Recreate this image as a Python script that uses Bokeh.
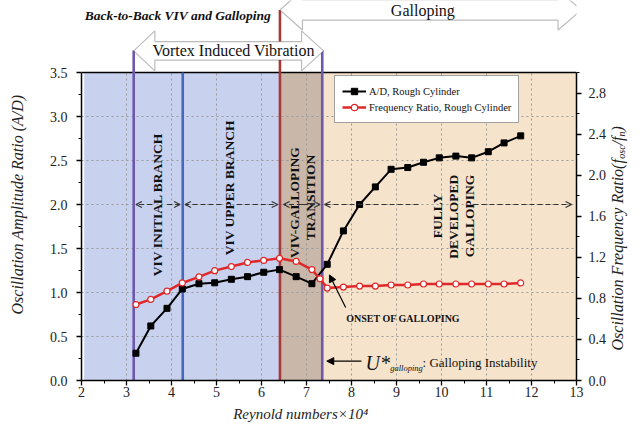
from math import pi
from bokeh.plotting import figure
from bokeh.models import (Range1d, LinearAxis, FixedTicker, PrintfTickFormatter, Label,
                          Arrow, OpenHead, NormalHead, PolyAnnotation, ColumnDataSource)
from bokeh.core.properties import value
from bokeh.embed import file_html
from bokeh.resources import INLINE

# ---------------- data ----------------
re_ad = [3.21, 3.54, 3.90, 4.24, 4.61, 4.96, 5.33, 5.69, 6.05, 6.40, 6.77, 7.12, 7.46,
         7.82, 8.18, 8.53, 8.88, 9.25, 9.60, 9.95, 10.32, 10.67, 11.04, 11.39, 11.76]
amp_ratio = [0.31, 0.62, 0.82, 1.04, 1.10, 1.11, 1.15, 1.18, 1.23, 1.26, 1.18, 1.10, 1.32,
             1.70, 2.00, 2.20, 2.40, 2.42, 2.48, 2.53, 2.55, 2.53, 2.60, 2.70, 2.78]

re_fr = [3.21, 3.54, 3.90, 4.24, 4.61, 4.96, 5.33, 5.69, 6.05, 6.40, 6.77, 7.12, 7.30, 7.46,
         7.82, 8.18, 8.53, 8.88, 9.25, 9.60, 9.95, 10.32, 10.67, 11.04, 11.39, 11.76]
freq_ratio = [0.74, 0.79, 0.87, 0.95, 1.01, 1.07, 1.11, 1.15, 1.17, 1.19, 1.16, 1.08, 0.99, 0.90,
              0.91, 0.92, 0.92, 0.93, 0.93, 0.94, 0.94, 0.94, 0.94, 0.94, 0.94, 0.95]

x_ticks = [2, 3, 4, 5, 6, 7, 8, 9, 10, 11, 12, 13]
x_minor = [2.5, 3.5, 4.5, 5.5, 6.5, 7.5, 8.5, 9.5, 10.5, 11.5, 12.5]
ad_ticks = [0.0, 0.5, 1.0, 1.5, 2.0, 2.5, 3.0, 3.5]
ad_minor = [0.25, 0.75, 1.25, 1.75, 2.25, 2.75, 3.25]
fr_ticks = [0.0, 0.4, 0.8, 1.2, 1.6, 2.0, 2.4, 2.8]
fr_minor = [0.2, 0.6, 1.0, 1.4, 1.8, 2.2, 2.6, 3.0]
grid_x = [3, 4, 5, 6, 7, 8, 9, 10, 11, 12]
grid_y = [0.5, 1.0, 1.5, 2.0, 2.5, 3.0]

region_left = [2.06, 6.41, 7.35]
region_right = [6.41, 7.35, 13.0]
region_colors = ["#c8d2ee", "#c9b7a9", "#f6e3cc"]

bound_x = [3.16, 4.25, 6.41, 7.35]
bound_top = [3.75, 3.5, 4.21, 3.75]
bound_colors = ["#6e58ad", "#4766bd", "#a63a3a", "#6e58ad"]

zone_text = ["VIV INITIAL BRANCH", "VIV UPPER BRANCH", "VIV-GALLOPING", "TRANSITION",
             "FULLY", "DEVELOPED", "GALLOPING"]
zone_x = [3.69, 5.28, 6.73, 7.09, 9.90, 10.27, 10.62]
zone_y = [2.0, 2.19, 2.02, 2.08, 1.87, 1.86, 1.87]

# dashed double arrows at A/D = 2.0, split around the zone labels (inner -> outer)
arr_inner = [3.57, 3.90, 5.11, 5.45, 6.90, 6.90, 9.49, 10.71]
arr_outer = [3.21, 4.19, 4.30, 6.36, 6.49, 7.30, 7.40, 12.89]
arr_y = [2.0] * 8

SERIF = "Liberation Serif"
W, H = 643, 424
BL, BR, BT, BB = 81, 67, 0, 44
AD_TOP, FR_TOP = 3.5, 3.0
frame_h = H - BT - BB
axis_h = 308.0
y_end = AD_TOP * frame_h / axis_h
fr_end = FR_TOP * frame_h / axis_h

p = figure(width=W, height=H, x_range=Range1d(2, 13), y_range=Range1d(0, y_end),
           output_backend="svg", toolbar_location=None, tools="",
           min_border_left=BL, min_border_right=BR, min_border_top=BT, min_border_bottom=BB)
p.outline_line_color = None
p.background_fill_color = "white"
p.border_fill_color = "white"
p.xgrid.visible = False
p.ygrid.visible = False
p.extra_y_ranges = {"fr": Range1d(0, fr_end)}


def style_axis(ax):
    ax.axis_line_color = "black"
    ax.axis_line_width = 1.5
    ax.major_tick_line_color = "black"
    ax.major_tick_line_width = 1.3
    ax.major_tick_in = 0
    ax.major_tick_out = 5
    ax.minor_tick_line_color = "black"
    ax.minor_tick_line_width = 1
    ax.minor_tick_in = 0
    ax.minor_tick_out = 3
    ax.major_label_text_font = SERIF
    ax.major_label_text_font_size = "14px"
    ax.major_label_text_color = "#222222"


xa = p.xaxis[0]
xa.ticker = FixedTicker(ticks=x_ticks, minor_ticks=x_minor)
style_axis(xa)
xa.major_label_standoff = 1

ya = p.yaxis[0]
ya.ticker = FixedTicker(ticks=ad_ticks, minor_ticks=ad_minor)
ya.formatter = PrintfTickFormatter(format="%.1f")
ya.bounds = (0, AD_TOP)
style_axis(ya)
ya.major_label_standoff = 9

ra = LinearAxis(y_range_name="fr", bounds=(0, FR_TOP),
                ticker=FixedTicker(ticks=fr_ticks, minor_ticks=fr_minor),
                formatter=PrintfTickFormatter(format="%.1f"))
style_axis(ra)
ra.major_label_standoff = 7
p.add_layout(ra, "right")


def axis_title(x, y, text, size, side, angle=0.0, align="center"):
    p.add_layout(Label(x=x, y=y, text=text, angle=angle, text_align=align,
                       text_baseline="middle", text_font=SERIF, text_font_style="italic",
                       text_font_size=size, text_color="#222222"), side)


# axis titles (kept in the side panels so they are not clipped by the frame)
axis_title(0.567, 2.0, "Oscillation Amplitude Ratio (A/D)", "16px", "left", pi / 2)
axis_title(6.87, -0.386, "Reynold numbers\u00d710\u2074", "15px", "below")
rx = 13.91
axis_title(rx, 0.341, "Oscillation Frequency Ratio(f", "16px", "right", pi / 2, "left")
axis_title(rx + 0.09, 2.520, "osc", "10px", "right", pi / 2, "left")
axis_title(rx, 2.672, "/f", "16px", "left", pi / 2, "left")
axis_title(rx + 0.09, 2.773, "n", "10px", "left", pi / 2, "left")
axis_title(rx, 2.830, ")", "16px", "below", pi / 2, "left")

# coloured regimes
p.quad(left=region_left, right=region_right, bottom=0, top=AD_TOP,
       fill_color=region_colors, line_color=None)

# dotted grid (limited to the data frame)
p.segment(x0=grid_x, x1=grid_x, y0=0, y1=AD_TOP, line_color="#9a9a9a",
          line_dash="2 3", line_width=1)
p.segment(x0=2, x1=13, y0=grid_y, y1=grid_y, line_color="#9a9a9a",
          line_dash="2 3", line_width=1)

# frame top line
p.segment(x0=[2], x1=[13], y0=[AD_TOP], y1=[AD_TOP], line_color="black", line_width=1.5)

# regime boundaries
p.segment(x0=bound_x, x1=bound_x, y0=0, y1=bound_top, line_color=bound_colors, line_width=2.6)

# data series
p.line(re_ad, amp_ratio, line_color="black", line_width=2, legend_label="A/D, Rough Cylinder")
p.scatter(re_ad, amp_ratio, marker="square", size=6, fill_color="black", line_color="black",
          legend_label="A/D, Rough Cylinder")
p.line(re_fr, freq_ratio, y_range_name="fr", line_color="#e0282a", line_width=2.5,
       legend_label="Frequency Ratio, Rough Cylinder")
p.scatter(re_fr, freq_ratio, y_range_name="fr", marker="circle", size=6, fill_color="white",
          line_color="#e0282a", line_width=1.2, legend_label="Frequency Ratio, Rough Cylinder")

# regime labels
p.text(x=zone_x, y=zone_y, text=zone_text, angle=pi / 2, text_align="center",
       text_baseline="middle", text_font=value(SERIF), text_font_style="bold",
       text_font_size="13.5px", text_color="#111111")

# dashed regime arrows
arr_src = ColumnDataSource(dict(x0=arr_inner, x1=arr_outer, y=arr_y))
p.add_layout(Arrow(source=arr_src, x_start="x0", y_start="y", x_end="x1", y_end="y",
                   line_color="#333333", line_width=1.2, line_dash="5 3",
                   end=OpenHead(size=6, line_color="#333333", line_width=1.2)))

# onset of galloping
p.text(x=[9.15], y=[0.70], text=["ONSET OF GALLOPING"], text_align="center",
       text_baseline="middle", text_font=value(SERIF), text_font_style="bold",
       text_font_size="10px", text_color="#111111")
p.add_layout(Arrow(x_start=7.87, y_start=0.83, x_end=7.51, y_end=1.20, line_color="black",
                   line_width=1.2, end=NormalHead(size=7, fill_color="black", line_color="black")))

# U* galloping instability
p.add_layout(Arrow(x_start=8.22, y_start=0.22, x_end=7.45, y_end=0.22, line_color="black",
                   line_width=1.2, end=NormalHead(size=7, fill_color="black", line_color="black")))
p.text(x=[8.31], y=[0.20], text=["U*"], text_align="left", text_baseline="middle",
       text_font=value(SERIF), text_font_style="italic", text_font_size="20px", text_color="#111111")
p.text(x=[8.86], y=[0.14], text=["galloping"], text_align="left", text_baseline="middle",
       text_font=value(SERIF), text_font_style="italic", text_font_size="8.5px", text_color="#111111")
p.text(x=[9.58], y=[0.20], text=[": Galloping Instability"], text_align="left", text_baseline="middle",
       text_font=value(SERIF), text_font_size="13px", text_color="#111111")

# block arrows above the data frame
vy, vb, vh = 3.746, 0.105, 0.227
viv_xs = [3.16, 3.63, 3.63, 6.89, 6.89, 7.38, 6.89, 6.89, 3.63, 3.63]
viv_ys = [vy, vy + vh, vy + vb, vy + vb, vy + vh, vy, vy - vh, vy - vb, vy - vb, vy - vh]
p.add_layout(PolyAnnotation(xs=viv_xs, ys=viv_ys, fill_color="white", fill_alpha=1,
                            line_color="#222222", line_width=1.2))
gy, gb, gh = 4.21, 0.114, 0.227
gal_xs = [6.41, 6.91, 6.91, 12.59, 12.59, 13.11, 12.59, 12.59, 6.91, 6.91]
gal_ys = [gy, gy + gh, gy + gb, gy + gb, gy + gh, gy, gy - gh, gy - gb, gy - gb, gy - gh]
p.add_layout(PolyAnnotation(xs=gal_xs, ys=gal_ys, fill_color="white", fill_alpha=1,
                            line_color="#222222", line_width=1.2))
p.add_layout(Label(x=5.38, y=vy, text="Vortex Induced Vibration", text_align="center",
                   text_baseline="middle", text_font=SERIF, text_font_size="16px",
                   text_color="#111111"))
p.add_layout(Label(x=9.585, y=gy, text="Galloping", text_align="center",
                   text_baseline="middle", text_font=SERIF, text_font_size="16px",
                   text_color="#111111"))

# chart subtitle
p.add_layout(Label(x=2.07, y=4.143, text="Back-to-Back VIV and Galloping", text_align="left",
                   text_baseline="middle", text_font=SERIF, text_font_style="bold italic",
                   text_font_size="13.5px", text_color="#111111"))

# legend
lg = p.legend[0]
lg.location = (253, 257)
lg.label_text_font = SERIF
lg.label_text_font_size = "10.5px"
lg.label_text_color = "#111111"
lg.label_height = 16
lg.glyph_height = 16
lg.glyph_width = 24
lg.label_standoff = 3
lg.padding = 7
lg.spacing = 0
lg.margin = 0
lg.border_line_color = "#444444"
lg.border_line_width = 1
lg.background_fill_color = "white"
lg.background_fill_alpha = 1

open("out.html", "w").write(file_html(p, INLINE))
